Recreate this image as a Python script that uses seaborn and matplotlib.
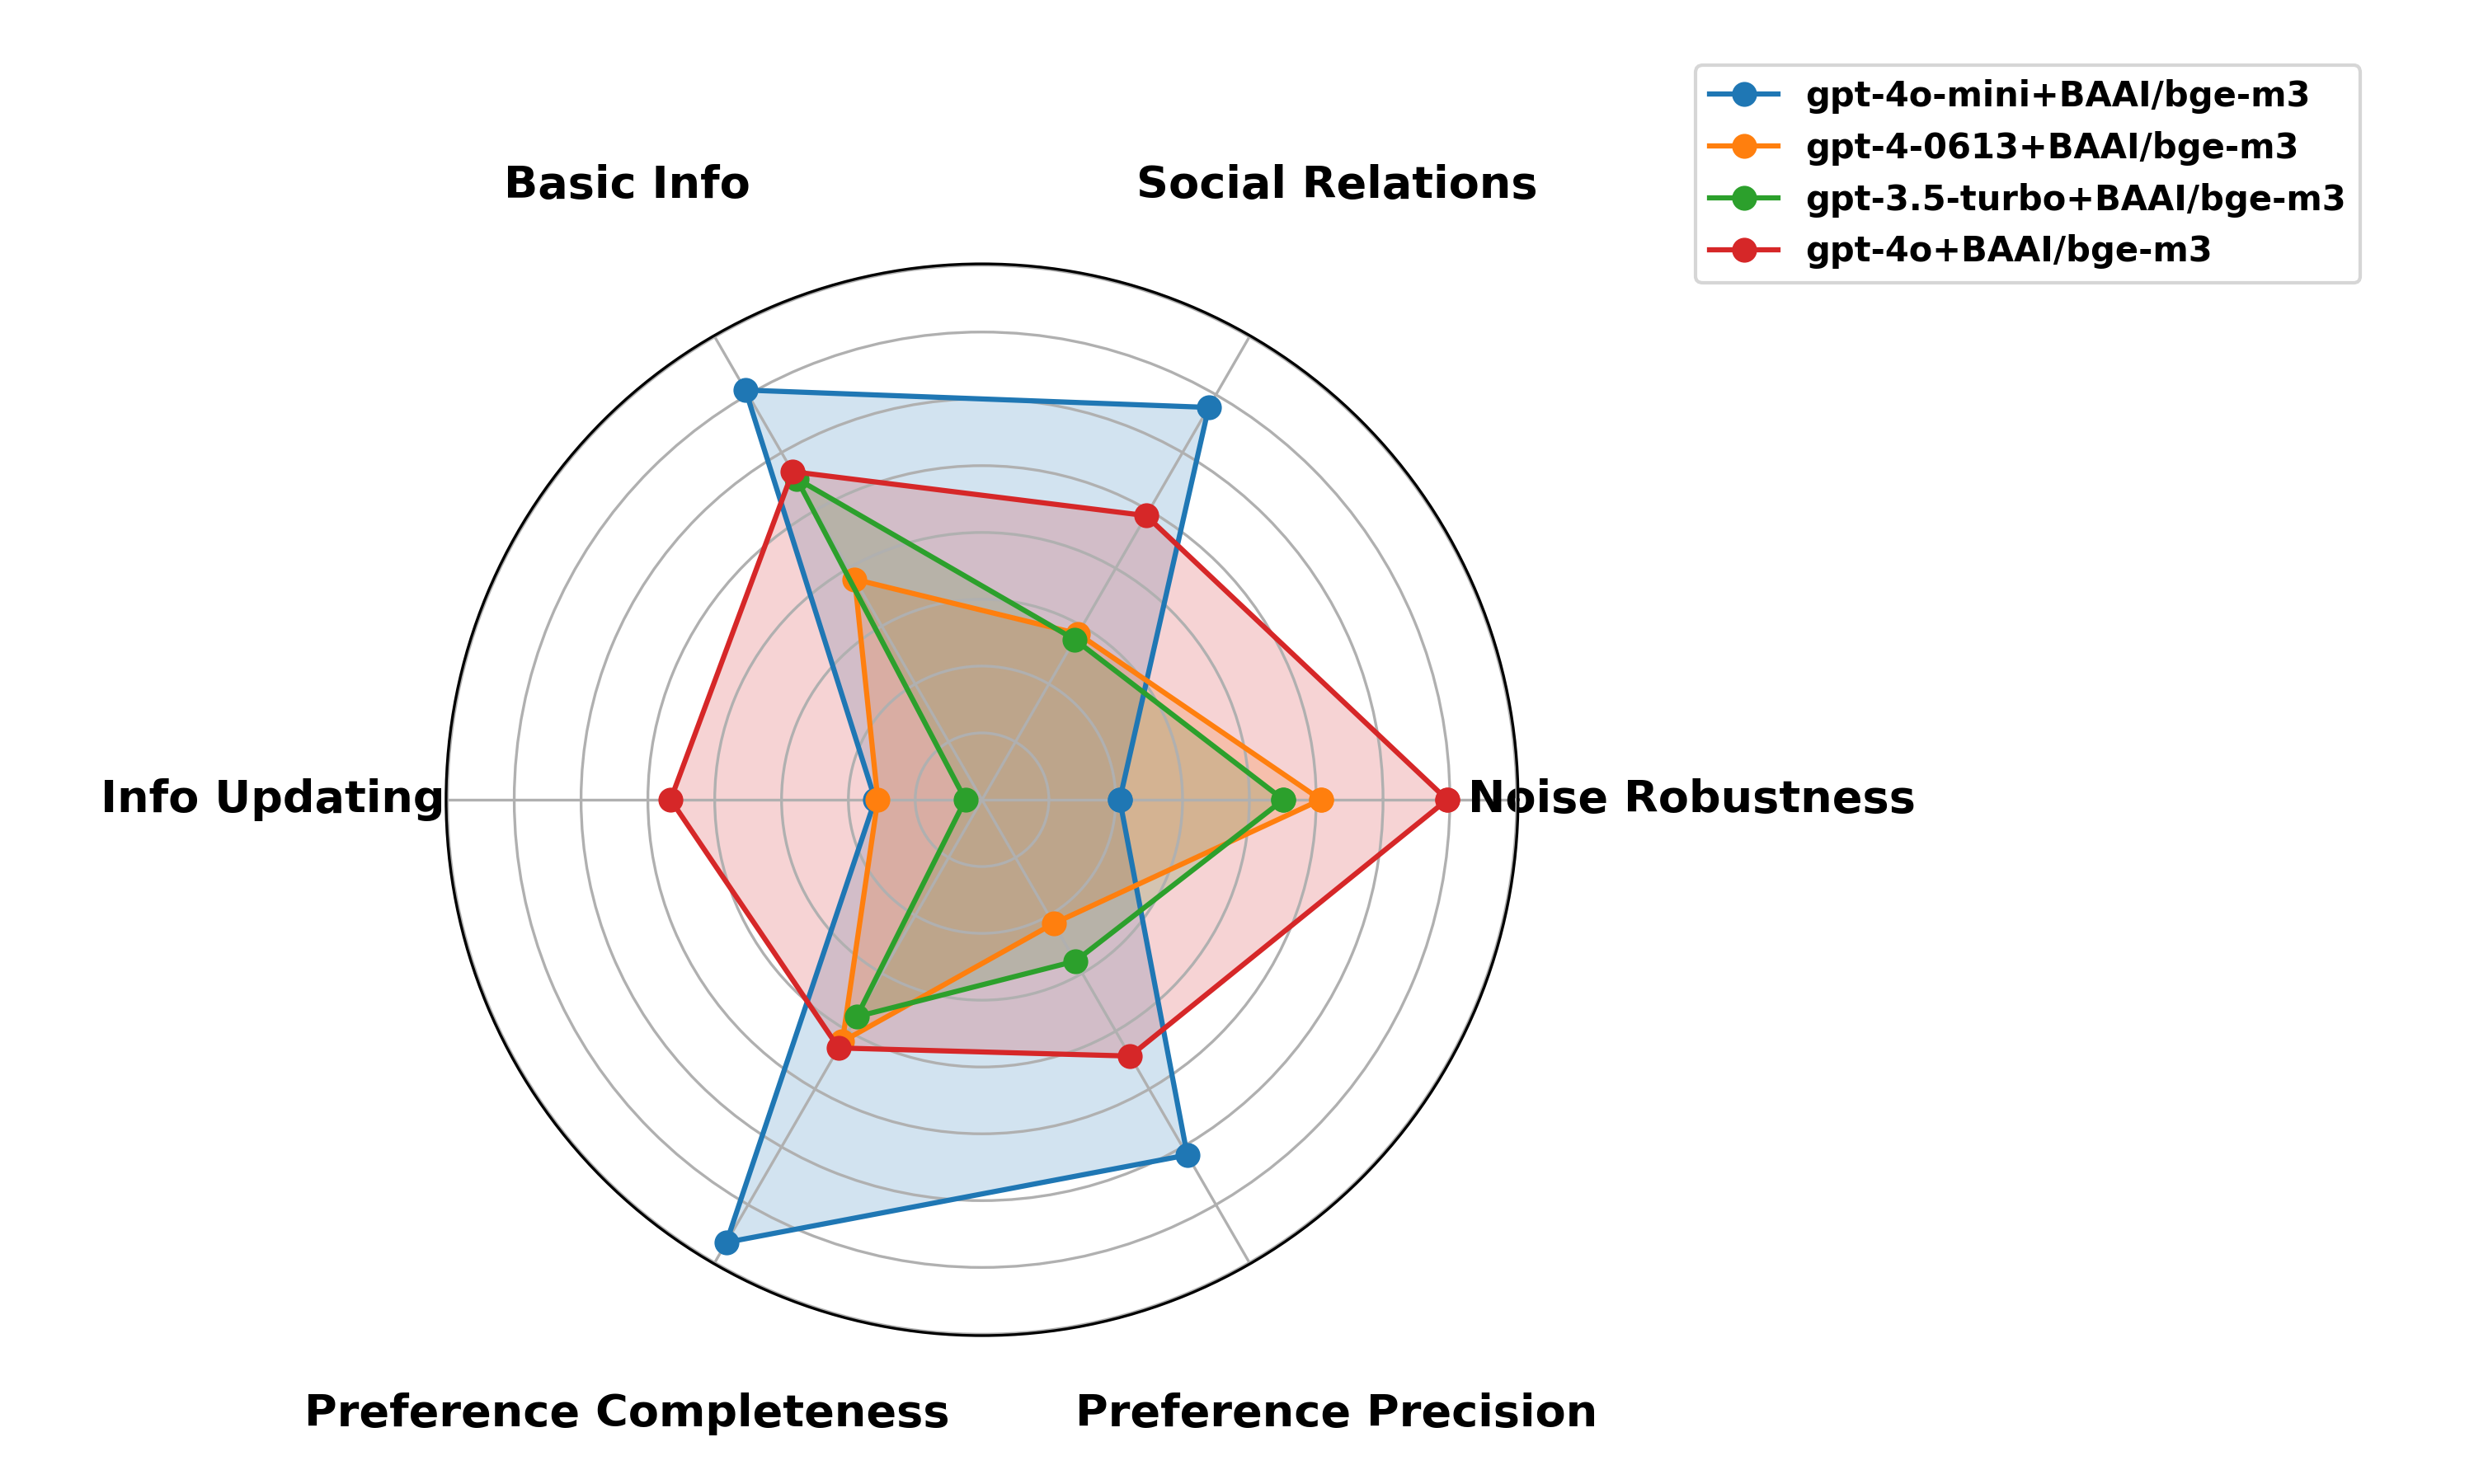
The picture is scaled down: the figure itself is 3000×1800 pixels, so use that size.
import numpy as np
import pandas as pd
import matplotlib
matplotlib.use("Agg")
import matplotlib.pyplot as plt
import seaborn as sns

categories = ["Noise Robustness", "Social Relations", "Basic Info",
              "Info Updating", "Preference Completeness", "Preference Precision"]

models = ["gpt-4o-mini+BAAI/bge-m3", "gpt-4-0613+BAAI/bge-m3",
          "gpt-3.5-turbo+BAAI/bge-m3", "gpt-4o+BAAI/bge-m3"]

gpt4o_mini = [0.206, 0.678, 0.708, 0.160, 0.765, 0.614]
gpt4_0613 = [0.507, 0.287, 0.381, 0.156, 0.418, 0.214]
gpt35_turbo = [0.451, 0.277, 0.555, 0.025, 0.375, 0.279]
gpt4o = [0.696, 0.491, 0.567, 0.466, 0.429, 0.443]

scores = [gpt4o_mini, gpt4_0613, gpt35_turbo, gpt4o]
colors = sns.color_palette("tab10", 4)

n = len(categories)
angles = np.linspace(0, 2 * np.pi, n, endpoint=False).tolist()
angles += angles[:1]

fig = plt.figure(figsize=(10, 6), dpi=300)
ax = fig.add_axes([0.1803, 0.1, 0.4333, 0.7222], polar=True)

for name, vals, c in zip(models, scores, colors):
    vals = vals + vals[:1]
    df = pd.DataFrame({"angle": angles, "score": vals})
    sns.lineplot(data=df, x="angle", y="score", sort=False, estimator=None,
                 marker="o", markersize=6.5, markeredgecolor=c, color=c,
                 linewidth=1.5, label=name, ax=ax, legend=False)
    ax.fill(angles, vals, color=c, alpha=0.2)

ax.set_xticks(angles[:-1])
ax.set_xticklabels(categories, fontsize=13, fontweight="bold")
ax.tick_params(axis="x", pad=40)
ax.set_yticklabels([])
ax.set_xlabel("")
ax.set_ylabel("")

handles, labels = ax.get_legend_handles_labels()
fig.legend(handles, labels, loc="upper right", bbox_to_anchor=(0.954, 0.956),
           borderaxespad=0, prop={"size": 10, "weight": "bold"})

fig.savefig("out.png", dpi=300)
